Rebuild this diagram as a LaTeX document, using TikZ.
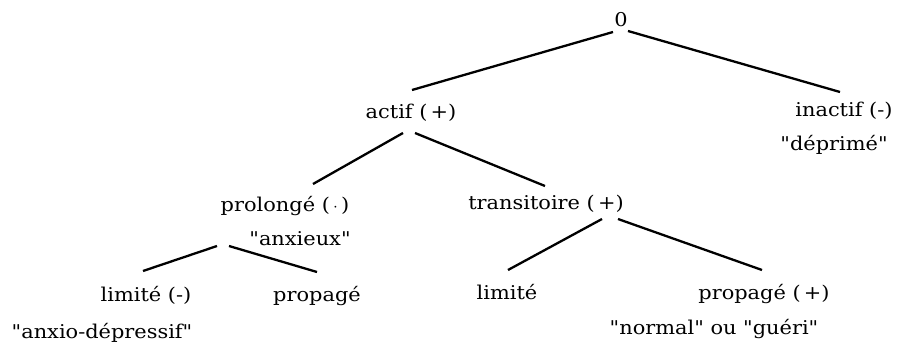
\documentclass[tikz,border=0pt]{standalone}
\usepackage{fontspec}
\setmainfont{DejaVu Serif}[Ligatures=TeXOff,FakeStretch=1.1]
\usetikzlibrary{positioning}

\begin{document}
\begin{tikzpicture}[x=1pt,y=-1pt,
  lbl/.style={inner sep=0pt,anchor=base,font=\fontsize{19}{22}\selectfont},
  branch/.style={line width=2.3pt}]
\useasboundingbox (0,0) rectangle (899,342);
% noeuds de l'arbre
\node[lbl] (zero) at (621,27) {0};
\node[lbl] (actif) at (411,119) {actif (\,+)};
\node[lbl] (inactif) at (844,117) {inactif (-)};
\node[lbl] (deprime) at (834,150) {"déprimé"};
\node[lbl] (prol) at (285,211) {prolongé (\,$\cdot$\,)};
\node[lbl] (anx) at (300,245) {"anxieux"};
\node[lbl] (trans) at (546,209) {transitoire (\,+)};
\node[lbl] (limA) at (146,301) {limité (-)};
\node[lbl] (propA) at (317,301) {propagé};
\node[lbl] (anxdep) at (102,338) {"anxio-dépressif"};
\node[lbl] (limB) at (507,299) {limité};
\node[lbl] (propB) at (764,299) {propagé (\,+)};
\node[lbl] (gueri) at (714,334) {"normal" ou "guéri"};
% branches
\draw[branch] ([xshift=-8pt,yshift=-5pt]zero.base) -- ([xshift=1pt,yshift=29pt]actif.base);
\draw[branch] ([xshift=7pt,yshift=-4pt]zero.base) -- ([xshift=-4pt,yshift=25pt]inactif.base);
\draw[branch] ([xshift=-8pt,yshift=-14pt]actif.base) -- ([xshift=28pt,yshift=27pt]prol.base);
\draw[branch] ([xshift=4pt,yshift=-14pt]actif.base) -- ([xshift=-1pt,yshift=23pt]trans.base);
\draw[branch] ([xshift=-68pt,yshift=-35pt]prol.base) -- ([xshift=-3pt,yshift=30pt]limA.base);
\draw[branch] ([xshift=-56pt,yshift=-35pt]prol.base) -- ([yshift=29pt]propA.base);
\draw[branch] ([xshift=56pt,yshift=-10pt]trans.base) -- ([xshift=1pt,yshift=29pt]limB.base);
\draw[branch] ([xshift=72pt,yshift=-10pt]trans.base) -- ([xshift=-2pt,yshift=29pt]propB.base);
\end{tikzpicture}
\end{document}
